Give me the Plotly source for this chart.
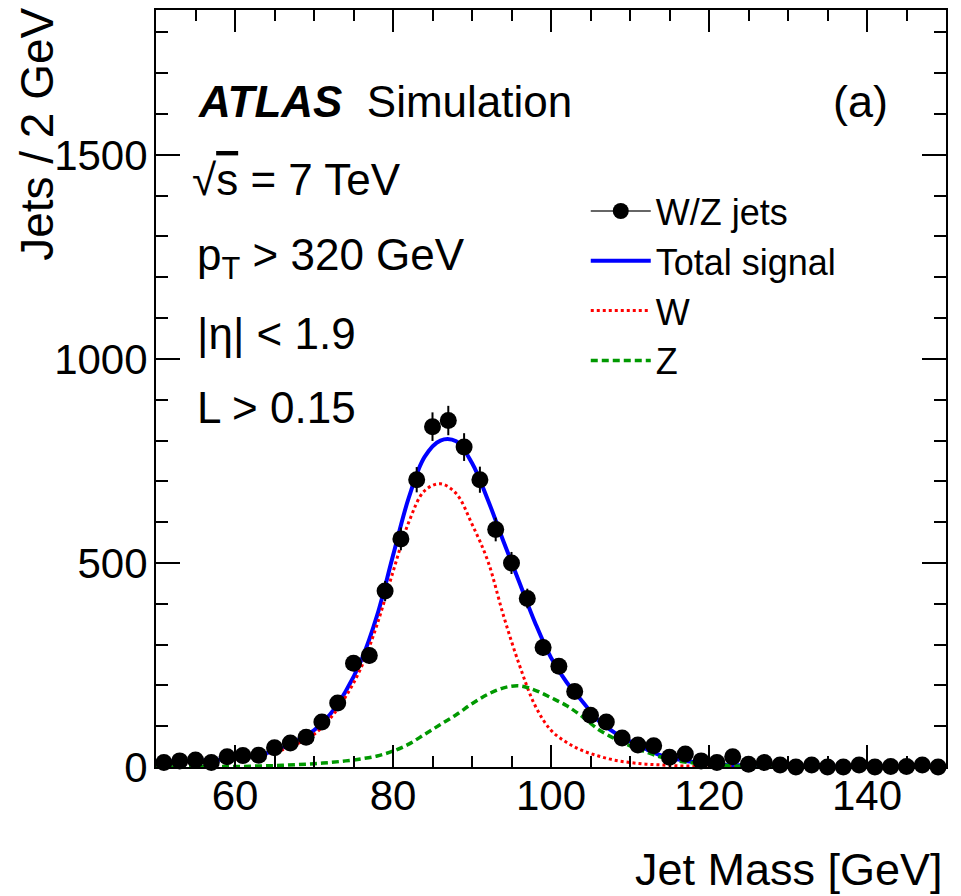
import plotly.graph_objects as go

# ---- data ----
bin_centers = list(range(51, 150, 2))  # GeV, 2 GeV bins
jets = [11, 15, 17, 11, 25, 28, 29, 47, 59, 73,
        110, 157, 254, 273, 431, 559, 704, 834, 849, 784,
        704, 582, 500, 413, 293, 247, 185, 127, 110, 71,
        54, 52, 24, 32, 15, 11, 25, 7, 11, 5,
        0, 5, 0, 0, 5, 0, 1, 1, 5, 0]
jets_err = [4, 5, 5, 4, 6, 6, 7, 8, 9, 10,
            12, 15, 19, 20, 25, 28, 31, 35, 36, 34,
            32, 29, 27, 24, 21, 19, 16, 14, 13, 10,
            9, 9, 6, 7, 5, 4, 6, 3, 4, 3,
            1, 3, 1, 1, 3, 1, 1, 1, 3, 1]

curve_x = list(range(50, 151, 2))
total_signal = [13, 14, 15, 16, 18, 21, 26, 34, 47, 66,
                90, 128, 185, 262, 372, 518, 660, 760, 800, 798,
                745, 655, 552, 452, 353, 268, 207, 160, 114, 85,
                63, 44, 28, 19, 12, 8, 5, 4, 3, 2,
                2, 2, 1, 1, 1, 1, 1, 1, 1, 1,
                1]
w_curve = [12, 12, 13, 14, 16, 19, 24, 31, 42, 58,
           80, 118, 172, 245, 350, 478, 600, 677, 694, 670,
           595, 505, 370, 250, 150, 90, 60, 40, 27, 17,
           11, 7, 5, 3, 2, 1, 1, 1, 1, 1,
           1, 1, 1, 1, 1, 1, 1, 1, 1, 1,
           1]
z_curve = [0, 0, 0, 1, 1, 1, 2, 3, 4, 6,
           8, 11, 15, 20, 27, 39, 56, 80, 104, 128,
           155, 178, 194, 199, 188, 170, 150, 123, 92, 70,
           52, 37, 24, 15, 10, 6, 4, 2, 1, 1,
           1, 0, 0, 0, 0, 0, 0, 0, 0, 0,
           0]

FONT = "Liberation Sans, Arial, Helvetica, sans-serif"

fig = go.Figure()

# legend-only entry for data (marker with line, ROOT "lep" style)
fig.add_trace(go.Scatter(
    x=[None], y=[None], mode="lines+markers", name="W/Z jets",
    line=dict(color="#333333", width=1.5),
    marker=dict(color="black", size=17),
))

fig.add_trace(go.Scatter(
    x=curve_x, y=total_signal, mode="lines", name="Total signal",
    line=dict(color="#0000ff", width=4, shape="spline"),
))
fig.add_trace(go.Scatter(
    x=curve_x, y=w_curve, mode="lines", name="W",
    line=dict(color="#ff0000", width=3, dash="3px,3px", shape="spline"),
))
fig.add_trace(go.Scatter(
    x=curve_x, y=z_curve, mode="lines", name="Z",
    line=dict(color="#009900", width=3.5, dash="7px,4px", shape="spline"),
))

fig.add_trace(go.Scatter(
    x=bin_centers, y=jets, mode="markers", showlegend=False,
    marker=dict(color="black", size=17),
    error_y=dict(type="data", array=jets_err, visible=True,
                 color="black", thickness=2, width=0),
    cliponaxis=False,
))

axis_common = dict(
    showline=True, linecolor="black", linewidth=2, mirror="allticks",
    ticks="inside", tickcolor="black", tickwidth=2,
    showgrid=False, zeroline=False, automargin=False,
    tickfont=dict(family=FONT, size=42, color="black"),
)

fig.update_xaxes(
    range=[50, 150], tick0=0, dtick=20, ticklen=22, ticklabelstandoff=-9,
    minor=dict(dtick=5, ticklen=11, ticks="inside", tickwidth=2, tickcolor="black"),
    **axis_common,
)
fig.update_yaxes(
    range=[0, 1855], tick0=0, dtick=500, ticklen=24, ticklabelstandoff=-2,
    minor=dict(dtick=100, ticklen=12, ticks="inside", tickwidth=2, tickcolor="black"),
    **axis_common,
)

annotations = [
    dict(text="<b><i>ATLAS</i></b>  Simulation", x=0.051, y=0.879,
         xanchor="left", yanchor="middle", font=dict(size=44)),
    dict(text="(a)", x=0.929, y=0.879, xanchor="right", yanchor="middle",
         font=dict(size=45)),
    dict(text="√<span style='text-decoration:overline'>s</span> = 7 TeV",
         x=0.043, y=0.776, xanchor="left", yanchor="middle", font=dict(size=44)),
    dict(text="p<sub>T</sub> &gt; 320 GeV", x=0.049, y=0.672,
         xanchor="left", yanchor="middle", font=dict(size=44)),
    dict(text="|η| &lt; 1.9", x=0.049, y=0.573,
         xanchor="left", yanchor="middle", font=dict(size=44)),
    dict(text="L &gt; 0.15", x=0.049, y=0.475,
         xanchor="left", yanchor="middle", font=dict(size=44)),
    dict(text="Jet Mass [GeV]", x=0.9985, y=-0.135, xanchor="right",
         yanchor="middle", font=dict(size=45)),
    dict(text="Jets / 2 GeV", x=-0.151, y=0.836, textangle=-90,
         xanchor="center", yanchor="middle", font=dict(size=46)),
]
for a in annotations:
    a.update(xref="paper", yref="paper", showarrow=False)
    a["font"].update(family=FONT, color="black")

fig.update_layout(
    width=961, height=896,
    margin=dict(l=148, r=23, t=2, b=137),
    paper_bgcolor="white", plot_bgcolor="white",
    font=dict(family=FONT, color="black"),
    annotations=annotations,
    showlegend=True,
    legend=dict(
        x=0.544, y=0.774, xanchor="left", yanchor="top",
        bgcolor="rgba(0,0,0,0)", borderwidth=0,
        font=dict(family=FONT, size=36, color="black"),
        itemwidth=60, tracegroupgap=0, traceorder="normal",
    ),
)

fig.write_html("out.html")
